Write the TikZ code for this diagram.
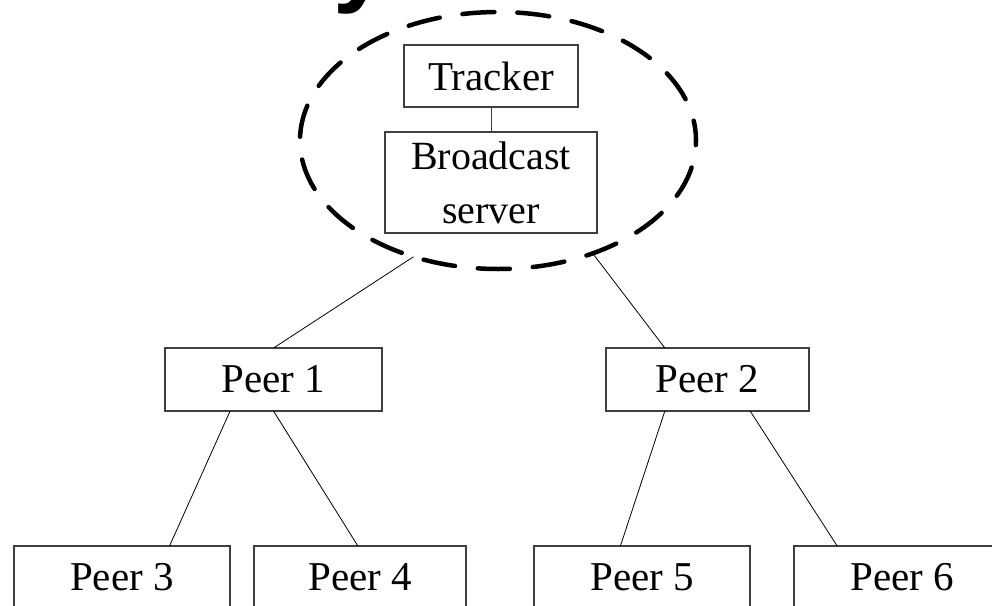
\documentclass[tikz,border=0pt]{standalone}
\usepackage{fontspec}
\setmainfont{Liberation Serif}
\newfontfamily\headfont{Liberation Sans}
\usetikzlibrary{shapes.geometric,calc}

\begin{document}
\begin{tikzpicture}[x=1pt,y=-1pt,
  box/.style={draw=black!75, line width=1.2pt, fill=white, inner sep=0pt, outer sep=0pt,
              minimum height=63pt, align=center, font=\fontsize{41}{54}\selectfont},
  link/.style={line width=0.8pt, black},
  group/.style={ellipse, draw=black, line width=4.5pt, line cap=round,
                dash pattern=on 32pt off 23pt, dash phase=12pt, inner sep=0pt, outer sep=0pt,
                minimum width=396pt, minimum height=257pt}
]
\clip (0,0) rectangle (992,605);
\fill[white] (0,0) rectangle (992,605);

% tail of the heading letter above the picture
\node[anchor=base west, inner sep=0pt, font=\headfont\bfseries\fontsize{100}{100}\selectfont]
  (head) at (333,-6) {y};

% server side grouped by the dashed ellipse
\node[group] (grp) at (498,140.5) {};
\node[box, minimum width=174pt, minimum height=62pt] (trk) at (491,76) {Tracker};
\node[box, minimum width=212pt, minimum height=101pt, font=\fontsize{40}{54}\selectfont]
  (bc) at (491,182.5) {Broadcast\\server};

% peers
\node[box, minimum width=217pt] (p1) at (273.5,379.5) {Peer 1};
\node[box, minimum width=203pt] (p2) at (707.5,379.5) {Peer 2};
\node[box, minimum width=216pt] (p3) at (122,577.5) {Peer 3};
\node[box, minimum width=212pt] (p4) at (360,577.5) {Peer 4};
\node[box, minimum width=216pt] (p5) at (642,577.5) {Peer 5};
\node[box, minimum width=216pt] (p6) at (902,577.5) {Peer 6};

% connectors
\draw[link, draw=black!75] (trk) -- (bc);
\draw[link] (grp.234) -- (p1.north);
\draw[link] (grp.310) -- ($(p2.north west)!0.29!(p2.north east)$);
\draw[link] ($(p1.south west)!0.30!(p1.south east)$) -- ($(p3.north west)!0.72!(p3.north east)$);
\draw[link] ($(p1.south west)!0.50!(p1.south east)$) -- ($(p4.north west)!0.49!(p4.north east)$);
\draw[link] ($(p2.south west)!0.29!(p2.south east)$) -- ($(p5.north west)!0.40!(p5.north east)$);
\draw[link] ($(p2.south west)!0.71!(p2.south east)$) -- ($(p6.north west)!0.20!(p6.north east)$);
\end{tikzpicture}
\end{document}
